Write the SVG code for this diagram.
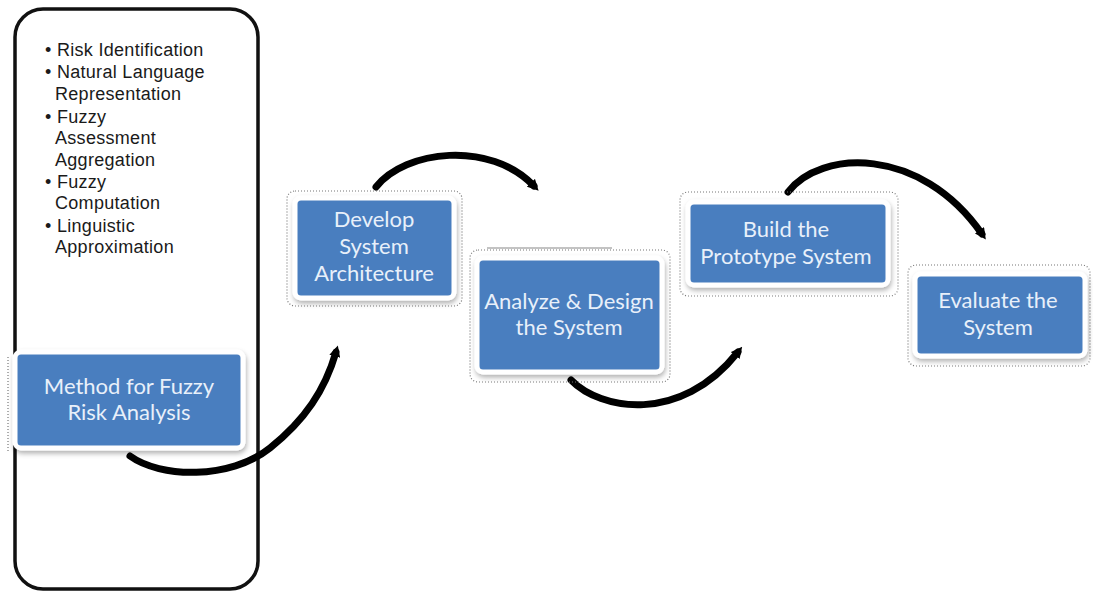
<svg xmlns="http://www.w3.org/2000/svg" width="1093" height="593" viewBox="0 0 1093 593">
<defs>
<style>
.frame{fill:#fff;stroke:#111;stroke-width:3.5}
.bul{font-family:"Liberation Sans",Arial,sans-serif;font-size:18px;fill:#1a1a1a;letter-spacing:0.3px}
.box{fill:#4a7ebf;stroke:#fff;stroke-width:5}
.dot{fill:none;stroke:#777;stroke-width:1.2;stroke-dasharray:1 2}
.lbl{font-family:Lato,"Open Sans",sans-serif;font-size:22px;fill:#e8f0fa;text-anchor:middle}
.arc{fill:none;stroke:#000;stroke-width:7;stroke-linecap:round}
</style>
<marker id="ah" viewBox="0 0 10 10" refX="4" refY="5" markerWidth="1.6" markerHeight="1.6" orient="auto" markerUnits="strokeWidth">
<path d="M0,0 L10,5 L0,10 z" fill="#000"/>
</marker>
<filter id="sh" x="-10%" y="-10%" width="125%" height="130%">
<feDropShadow dx="1" dy="3" stdDeviation="2.5" flood-color="#000" flood-opacity="0.3"/>
</filter>
</defs>
<rect width="1093" height="593" fill="#fff"/>

<g id="outer-frame">
<rect class="frame" x="15" y="9" width="243" height="580" rx="28"/>
<text class="bul" x="45" y="56">• Risk Identification</text>
<text class="bul" x="45" y="78">• Natural Language</text>
<text class="bul" x="55" y="100">Representation</text>
<text class="bul" x="45" y="123">• Fuzzy</text>
<text class="bul" x="55" y="144">Assessment</text>
<text class="bul" x="55" y="166">Aggregation</text>
<text class="bul" x="45" y="188">• Fuzzy</text>
<text class="bul" x="55" y="209">Computation</text>
<text class="bul" x="45" y="232">• Linguistic</text>
<text class="bul" x="55" y="253">Approximation</text>
</g>

<g id="connectors">
<path class="arc" d="M130,456 C160,478 230,480 270,448 C305,420 325,390 336,352" marker-end="url(#ah)"/>
<path class="arc" d="M376,187 C405,150 490,140 534,186" marker-end="url(#ah)"/>
<path class="arc" d="M571,380 C600,410 680,425 738,352" marker-end="url(#ah)"/>
<path class="arc" d="M788,192 C820,150 920,145 982,234" marker-end="url(#ah)"/>
<line x1="487" y1="248" x2="612" y2="248" stroke="#888" stroke-width="1.2"/>
</g>

<g id="method">
<line x1="8" y1="357" x2="8" y2="452" class="dot"/>
<rect class="box" x="15" y="352" width="228" height="96" rx="6" filter="url(#sh)"/>
<text class="lbl" x="129" y="394">Method for Fuzzy</text>
<text class="lbl" x="129" y="420">Risk Analysis</text>
</g>

<g id="develop">
<rect class="dot" x="287" y="191" width="175" height="115" rx="8"/>
<rect class="box" x="295" y="198" width="159" height="100" rx="6" filter="url(#sh)"/>
<text class="lbl" x="374" y="227">Develop</text>
<text class="lbl" x="374" y="254">System</text>
<text class="lbl" x="374" y="281">Architecture</text>
</g>

<g id="analyze">
<rect class="dot" x="470" y="250" width="200" height="132" rx="8"/>
<rect class="box" x="477" y="258" width="185" height="114" rx="6" filter="url(#sh)"/>
<text class="lbl" x="569" y="309">Analyze &amp; Design</text>
<text class="lbl" x="569" y="335">the System</text>
</g>

<g id="build">
<rect class="dot" x="680" y="192" width="218" height="104" rx="8"/>
<rect class="box" x="688" y="202" width="200" height="83" rx="6" filter="url(#sh)"/>
<text class="lbl" x="786" y="237">Build the</text>
<text class="lbl" x="786" y="264">Prototype System</text>
</g>

<g id="evaluate">
<rect class="dot" x="908" y="265" width="182" height="101" rx="8"/>
<rect class="box" x="915" y="274" width="170" height="82" rx="6" filter="url(#sh)"/>
<text class="lbl" x="998" y="308">Evaluate the</text>
<text class="lbl" x="998" y="335">System</text>
</g>
</svg>
